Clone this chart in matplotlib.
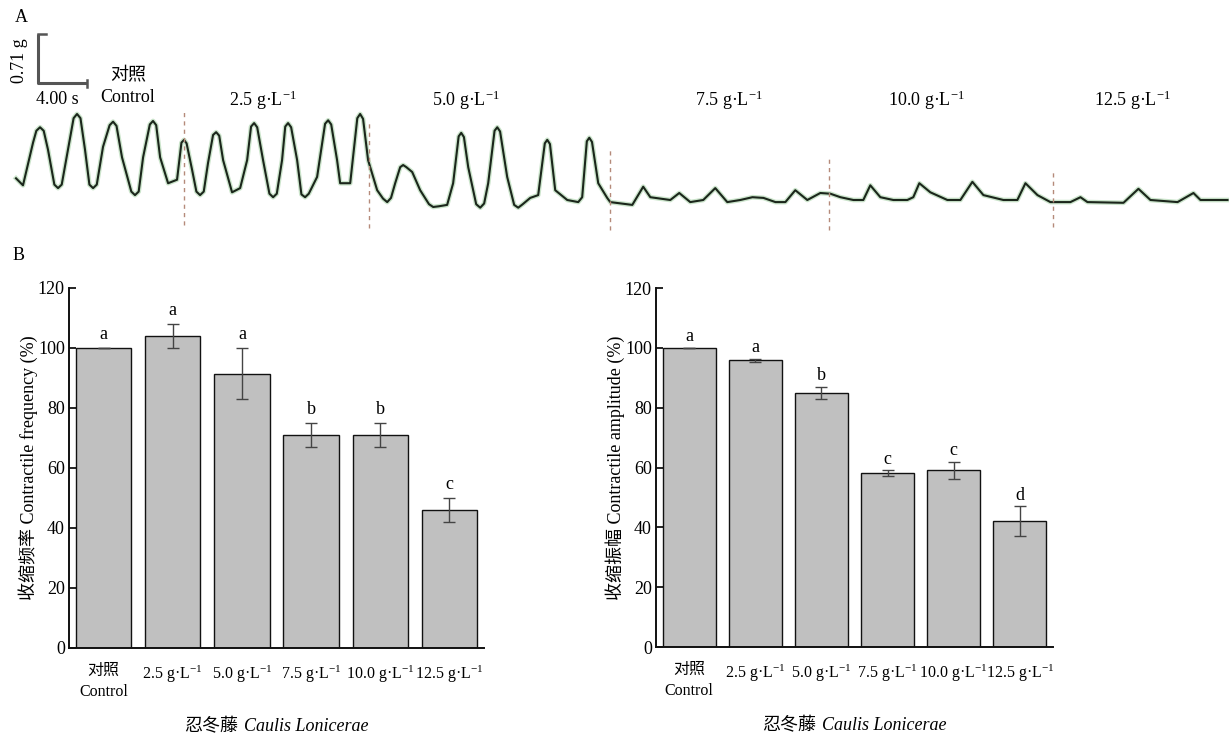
import numpy as np
import matplotlib
matplotlib.use('Agg')
import matplotlib.pyplot as plt
from matplotlib.offsetbox import TextArea, HPacker, AnchoredOffsetbox

plt.rcParams['font.family'] = ['Liberation Serif', 'Noto Sans CJK SC']
plt.rcParams['mathtext.fontset'] = 'custom'
plt.rcParams['mathtext.rm'] = 'Liberation Serif'
plt.rcParams['mathtext.it'] = 'Liberation Serif:italic'
plt.rcParams['mathtext.bf'] = 'Liberation Serif:bold'

# ---------------- data ----------------
categories = ['对照\nControl', r'2.5 g·L$^{-1}$', r'5.0 g·L$^{-1}$',
              r'7.5 g·L$^{-1}$', r'10.0 g·L$^{-1}$', r'12.5 g·L$^{-1}$']
freq_mean = [100, 104, 91.5, 71, 71, 46]
freq_err = [0, 4, 8.5, 4, 4, 4]
freq_letters = ['a', 'a', 'a', 'b', 'b', 'c']
amp_mean = [100, 95.8, 85, 58, 59, 42]
amp_err = [0, 0.5, 2, 1, 3, 5]
amp_letters = ['a', 'a', 'b', 'c', 'c', 'd']
yticks = [0, 20, 40, 60, 80, 100, 120]
xlabel_cn = '忍冬藤'
xlabel_latin = 'Caulis Lonicerae'

# contraction trace (time in s, force in g relative to baseline)
trace_time = [0.0, 0.57, 1.39, 1.96, 2.61, 3.43, 4.24, 4.98, 5.63, 6.29, 7.10, 7.92,
              8.65, 9.71, 10.37, 11.18, 11.76, 12.41, 13.14, 13.71, 14.37, 15.02, 15.67,
              16.33, 16.90, 17.63, 18.29, 18.86, 19.43, 20.16, 20.98, 21.71, 22.20, 22.94,
              23.59, 24.57, 25.47, 26.20, 26.45, 27.27, 28.08, 28.73, 29.47, 30.29, 30.94,
              31.59, 32.33, 32.98, 34.04, 35.18, 35.67, 36.33, 36.90, 37.88, 38.53, 39.27,
              40.08, 40.98, 41.96, 42.61, 43.35, 44.00, 44.98, 45.88, 46.20, 46.78, 47.51,
              48.24, 48.49, 50.29, 51.18, 51.76, 53.39, 54.12, 55.02, 56.08, 57.06, 58.04,
              59.10, 60.09, 60.99, 61.97, 62.78, 63.59, 64.57, 65.63, 66.45, 67.27, 68.33,
              69.14, 69.71, 70.53, 71.59, 72.73, 73.22, 73.71, 74.61, 76.00, 77.06, 78.04,
              78.94, 80.57, 81.71, 82.37, 83.35, 84.41, 86.04, 86.86, 87.43, 90.37, 91.59,
              92.57, 94.78, 96.08, 96.65, 98.86]
trace_force = [0.31, 0.21, 0.82, 1.04, 0.72, 0.17, 0.72, 1.23, 0.72, 0.17, 0.76, 1.12,
               0.61, 0.07, 0.61, 1.13, 0.61, 0.24, 0.29, 0.86, 0.43, 0.07, 0.53,
               0.97, 0.57, 0.11, 0.17, 0.57, 1.10, 0.57, 0.04, 0.57, 1.10, 0.57,
               0.04, 0.33, 1.14, 0.57, 0.24, 0.24, 1.23, 0.57, 0.14, -0.03, 0.24,
               0.50, 0.40, 0.14, -0.10, -0.07, 0.24, 0.96, 0.47, -0.11, 0.24, 1.04,
               0.33, -0.11, 0.03, 0.07, 0.86, 0.14, 0.00, -0.03, 0.04, 0.89, 0.24,
               0.03, -0.03, -0.07, 0.19, 0.04, 0.00, 0.10, -0.03, 0.00, 0.17, -0.03,
               0.00, 0.04, 0.03, -0.03, -0.03, 0.14, 0.00, 0.10, 0.09, 0.04, 0.00,
               0.00, 0.21, 0.04, 0.00, 0.00, 0.04, 0.24, 0.11, 0.00, 0.00, 0.26,
               0.07, 0.00, 0.00, 0.24, 0.07, -0.03, -0.03, 0.04, -0.03, -0.04, 0.16,
               0.00, -0.03, 0.10, 0.00, 0.00]
# extra points read around the rounded peaks and troughs
shoulder_time = [1.66, 2.26, 3.13, 3.73, 4.70, 5.26, 5.99, 6.59, 7.64, 8.20, 9.41, 10.01,
                 10.92, 11.44, 13.50, 13.92, 14.72, 15.32, 16.08, 16.58, 19.18, 19.68,
                 20.68, 21.28, 21.97, 22.45, 23.29, 23.89, 25.22, 25.72, 27.85, 28.32,
                 29.95, 30.60, 31.35, 31.85, 33.70, 34.50, 36.12, 36.55, 37.55, 38.20,
                 39.05, 39.50, 40.65, 41.35, 43.15, 43.57, 46.58, 47.00]
shoulder_force = [0.99, 0.99, 0.22, 0.22, 1.17, 1.17, 0.22, 0.22, 1.07, 1.06, 0.12, 0.12,
                  1.08, 1.07, 0.82, 0.81, 0.12, 0.12, 0.93, 0.92, 1.05, 1.04,
                  0.09, 0.09, 1.05, 1.04, 0.08, 0.09, 1.09, 1.08, 1.17, 1.16,
                  0.02, 0.03, 0.47, 0.47, -0.06, -0.09, 0.91, 0.90, -0.06, -0.05,
                  0.99, 0.98, -0.07, -0.06, 0.81, 0.80, 0.84, 0.83]
# dose change markers: time, top, bottom
marker_time = [13.71, 28.8, 48.5, 66.3, 84.6]
marker_top = [1.26, 1.14, 0.76, 0.60, 0.43]
marker_bottom = [-0.36, -0.40, -0.43, -0.43, -0.39]
trace_labels = [r'2.5 g·L$^{-1}$', r'5.0 g·L$^{-1}$', r'7.5 g·L$^{-1}$',
                r'10.0 g·L$^{-1}$', r'12.5 g·L$^{-1}$']
scale_time = 4.00
scale_force = 0.71

W, H = 1229, 738
fig = plt.figure(figsize=(W / 100, H / 100), dpi=100)
FS = 13
TFS = 11.5

# ---------------- panel A: trace ----------------
axt = fig.add_axes([0, 1 - 240 / H, 1, 240 / H])
axt.set_xlim(-1.306, 98.98)
axt.set_ylim(-0.572, 2.86)
axt.axis('off')
tt = np.array(trace_time + shoulder_time)
ff = np.array(trace_force + shoulder_force)
order = np.argsort(tt)
tt, ff = tt[order], ff[order]
axt.plot(tt, ff, color='#8cc48c', lw=3.4, alpha=0.45, solid_joinstyle='round')
axt.plot(tt, ff, color='#1b261b', lw=1.5, solid_joinstyle='round')
for t, top, bot in zip(marker_time, marker_top, marker_bottom):
    axt.plot([t, t], [bot, top], color='#b58a7a', lw=1.0, dashes=(3, 3))

# scale bar
sb_t, sb_f = 1.77, 1.67
axt.plot([sb_t, sb_t, sb_t + scale_time], [sb_f + scale_force, sb_f, sb_f],
         color='#555555', lw=2.2, solid_capstyle='butt')
axt.plot([sb_t, sb_t + 0.7], [sb_f + scale_force] * 2, color='#555555', lw=1.8)
axt.plot([sb_t + scale_time] * 2, [sb_f - 0.05, sb_f + 0.05], color='#555555', lw=1.8)

def ftext(x, y, s, **kw):
    fig.text(x / W, 1 - y / H, s, fontsize=FS, **kw)

ftext(15, 18, 'A', ha='left', va='center')
ftext(13, 256, 'B', ha='left', va='center')
ftext(19, 61, f'{scale_force:.2f} g', ha='center', va='center', rotation=90)
ftext(57, 99, f'{scale_time:.2f} s', ha='center', va='center')
ftext(128, 76, '对照', ha='center', va='center')
ftext(128, 98, 'Control', ha='center', va='center')
for xp, s in zip([263, 466, 729, 926, 1132], trace_labels):
    ftext(xp, 100, s, ha='center', va='center')

# ---------------- panel B: bars ----------------
def bar_panel(rect, means, errs, letters, ylabel, off):
    ax = fig.add_axes(rect)
    x = np.arange(len(means))
    ax.bar(x, means, width=0.8, color='#c0c0c0', edgecolor='#111111', linewidth=1.0)
    ax.errorbar(x, means, yerr=errs, fmt='none', ecolor='#444444', elinewidth=1.0,
                capsize=4, capthick=1.0)
    for xi, m, e, l in zip(x, means, errs, letters):
        ax.annotate(l, (xi, m + e), xytext=(0, off), textcoords='offset points',
                    ha='center', va='center', fontsize=FS)
    ax.set_xlim(-0.5, 5.5)
    ax.set_ylim(0, 120)
    ax.set_yticks(yticks)
    ax.set_xticks(x)
    ax.set_xticklabels(categories, fontsize=TFS, linespacing=1.4)
    ax.tick_params(axis='x', length=0, pad=11)
    ax.tick_params(axis='y', direction='in', length=5, width=1.2, labelsize=FS, pad=3)
    for s in ['top', 'right']:
        ax.spines[s].set_visible(False)
    for s in ['left', 'bottom']:
        ax.spines[s].set_linewidth(1.4)
        ax.spines[s].set_color('#111111')
    ax.set_ylabel(ylabel, fontsize=FS, labelpad=0)
    t1 = TextArea(xlabel_cn, textprops=dict(fontsize=FS))
    t2 = TextArea(xlabel_latin, textprops=dict(fontsize=FS, style='italic'))
    box = HPacker(children=[t1, t2], align='baseline', pad=0, sep=4)
    anch = AnchoredOffsetbox(loc='center', child=box, frameon=False,
                             bbox_to_anchor=(0.5, -0.219), bbox_transform=ax.transAxes,
                             borderpad=0, pad=0)
    ax.add_artist(anch)
    return ax

bar_panel([69 / W, 1 - 648 / H, (484 - 69) / W, 360 / H], freq_mean, freq_err,
          freq_letters, '收缩频率 Contractile frequency (%)', 9.5)
bar_panel([656 / W, 1 - 647 / H, (1053 - 656) / W, 359 / H], amp_mean, amp_err,
          amp_letters, '收缩振幅 Contractile amplitude (%)', 8)

fig.savefig('out.png', dpi=100)
